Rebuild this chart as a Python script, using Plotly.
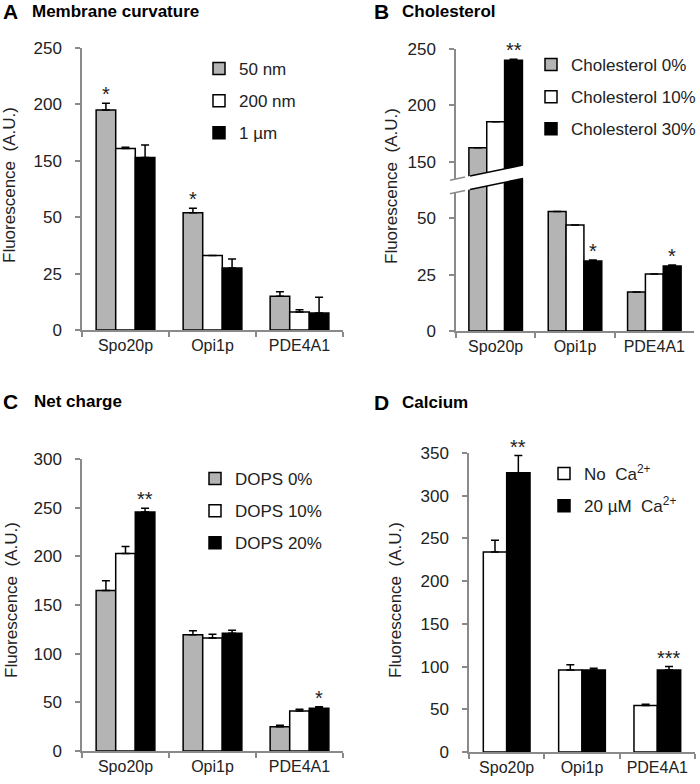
import plotly.graph_objects as go

W, H = 700, 784
FONT = "Liberation Sans, Arial, sans-serif"
GRAY = "#b4b4b4"
AX = "#8a8a8a"
TXT = "#222222"

categories = ["Spo20p", "Opi1p", "PDE4A1"]

# Panel A - membrane curvature
a_names = ["50 nm", "200 nm", "1 µm"]
a_50 = [195, 52, 15]
a_50_err = [6, 2, 2]
a_200 = [161, 33, 8]
a_200_err = [1, 0, 1]
a_1um = [153, 27.5, 7.5]
a_1um_err = [11, 4, 7]

# Panel B - cholesterol
b_names = ["Cholesterol 0%", "Cholesterol 10%", "Cholesterol 30%"]
b_0 = [162.5, 53, 17.3]
b_0_err = [0, 0, 0]
b_10 = [185.5, 47, 25.3]
b_10_err = [0, 0, 0]
b_30 = [240, 31, 28.8]
b_30_err = [0.8, 0.5, 0.5]

# Panel C - net charge
c_names = ["DOPS 0%", "DOPS 10%", "DOPS 20%"]
c_0 = [165, 119.5, 25]
c_0_err = [10, 4, 1.5]
c_10 = [203, 116, 41]
c_10_err = [7, 4, 2]
c_20 = [245.5, 121, 44]
c_20_err = [4, 3, 1.5]

# Panel D - calcium
d_names = ["No\u00a0\u00a0Ca<sup>2+</sup>", "20 µM\u00a0\u00a0Ca<sup>2+</sup>"]
d_no = [234, 96, 54.5]
d_no_err = [14, 6, 1.5]
d_20 = [327, 96, 96]
d_20_err = [20, 2, 4]

# significance stars: (category index, series index, text)
a_stars = [(0, 0, "*"), (1, 0, "*")]
b_stars = [(0, 2, "**"), (1, 2, "*"), (2, 2, "*")]
c_stars = [(0, 2, "**"), (2, 2, "*")]
d_stars = [(0, 1, "**"), (2, 1, "***")]

fills3 = [GRAY, "white", "black"]
fills2 = ["white", "black"]


def pxx(x):
    return x / W


def pyy(y):
    return 1 - y / H


fig = go.Figure()


def add_series(vals, errs, name, fill, width, offset, xa, ya, legend, show=True):
    fig.add_trace(go.Bar(
        x=categories, y=vals, name=name, xaxis=xa, yaxis=ya,
        width=width, offset=offset, legend=legend, showlegend=show,
        legendgroup=legend + name,
        marker=dict(color=fill, line=dict(color="black", width=1.5)),
        error_y=dict(type="data", symmetric=False, array=errs,
                     arrayminus=[0] * len(errs), color="black",
                     thickness=1.5, width=4),
    ))


W3 = 0.225
offs3 = [-1.5 * W3, -0.5 * W3, 0.5 * W3]
W2 = 0.31
offs2 = [-W2, 0]

# Panel A (broken axis: y lower, y2 upper)
a_series = [(a_50, a_50_err), (a_200, a_200_err), (a_1um, a_1um_err)]
for k, (v, e) in enumerate(a_series):
    add_series(v, e, a_names[k], fills3[k], W3, offs3[k], "x", "y", "legend", True)
    add_series(v, e, a_names[k], fills3[k], W3, offs3[k], "x", "y2", "legend", False)

# Panel B (broken axis: y3 lower, y4 upper)
b_series = [(b_0, b_0_err), (b_10, b_10_err), (b_30, b_30_err)]
for k, (v, e) in enumerate(b_series):
    add_series(v, e, b_names[k], fills3[k], W3, offs3[k], "x2", "y3", "legend2", True)
    add_series(v, e, b_names[k], fills3[k], W3, offs3[k], "x2", "y4", "legend2", False)

# Panel C
c_series = [(c_0, c_0_err), (c_10, c_10_err), (c_20, c_20_err)]
for k, (v, e) in enumerate(c_series):
    add_series(v, e, c_names[k], fills3[k], W3, offs3[k], "x3", "y5", "legend3", True)

# Panel D
d_series = [(d_no, d_no_err), (d_20, d_20_err)]
for k, (v, e) in enumerate(d_series):
    add_series(v, e, d_names[k], fills2[k], W2, offs2[k], "x4", "y6", "legend4", True)

annotations = []


def star_annots(stars, series, width, offs, xref, yref_fn):
    for ci, si, txt in stars:
        v, e = series[si]
        top = v[ci] + e[ci]
        annotations.append(dict(
            x=ci + offs[si] + width / 2, y=top, xref=xref, yref=yref_fn(top),
            text=txt, showarrow=False, yanchor="bottom", xanchor="center",
            font=dict(family=FONT, size=20, color=TXT), yshift=-4))


star_annots(a_stars, a_series, W3, offs3, "x", lambda t: "y2" if t > 100 else "y")
star_annots(b_stars, b_series, W3, offs3, "x2", lambda t: "y4" if t > 100 else "y3")
star_annots(c_stars, c_series, W3, offs3, "x3", lambda t: "y5")
star_annots(d_stars, d_series, W2, offs2, "x4", lambda t: "y6")

# panel titles
titles = [("A", "Membrane curvature", 1, 30, 11),
          ("B", "Cholesterol", 372, 400, 11),
          ("C", "Net charge", 1, 32, 401),
          ("D", "Calcium", 372, 400, 402)]
for letter, text, lx, tx, ty in titles:
    annotations.append(dict(x=pxx(lx), y=pyy(ty), xref="paper", yref="paper",
                            text="<b>" + letter + "</b>", showarrow=False,
                            xanchor="left", yanchor="middle",
                            font=dict(family=FONT, size=21, color="black")))
    annotations.append(dict(x=pxx(tx), y=pyy(ty), xref="paper", yref="paper",
                            text="<b>" + text + "</b>", showarrow=False,
                            xanchor="left", yanchor="middle",
                            font=dict(family=FONT, size=17, color="black")))

# y axis titles
for cx, cy in [(10, 185), (391, 186), (11, 600), (395, 600)]:
    annotations.append(dict(x=pxx(cx), y=pyy(cy), xref="paper", yref="paper",
                            text="Fluorescence\u00a0\u00a0(A.U.)", textangle=-90,
                            showarrow=False, xanchor="center", yanchor="middle",
                            font=dict(family=FONT, size=17, color=TXT)))

xcommon = dict(type="category", range=[-0.5, 2.5], showline=True, linecolor=AX,
               linewidth=1.5, ticks="outside", tickson="boundaries", ticklen=5,
               tickcolor=AX, tickwidth=1.5, showgrid=False, zeroline=False,
               tickfont=dict(family=FONT, size=16, color=TXT), fixedrange=True,
               automargin=False)
ycommon = dict(showline=True, linecolor=AX, linewidth=1.5, ticks="outside",
               ticklen=5, tickcolor=AX, tickwidth=1.5, showgrid=False,
               zeroline=False, tickfont=dict(family=FONT, size=17, color=TXT),
               ticklabelstandoff=10, fixedrange=True, automargin=False)

# pixel geometry
A_x = (82, 343)
B_x = (456, 694)
C_x = (82, 343)
D_x = (469, 695)
A_y0, A_br, A_y1 = 330, 189, 48
B_y0, B_br, B_y1 = 331, 179.8, 49


def xd(a):
    return [pxx(a[0]), pxx(a[1])]


fig.update_layout(
    width=W, height=H, margin=dict(l=0, r=0, t=0, b=0, autoexpand=False),
    paper_bgcolor="white", plot_bgcolor="white", barmode="overlay",
    font=dict(family=FONT, color=TXT),
    xaxis=dict(xcommon, domain=xd(A_x), anchor="y"),
    yaxis=dict(ycommon, domain=[pyy(A_y0), pyy(A_br)], range=[0, 62.5],
               tickvals=[0, 25, 50], anchor="x"),
    yaxis2=dict(ycommon, domain=[pyy(A_br), pyy(A_y1)], range=[125, 250],
                tickvals=[150, 200, 250], anchor="x"),
    xaxis2=dict(xcommon, domain=xd(B_x), anchor="y3"),
    yaxis3=dict(ycommon, domain=[pyy(B_y0), pyy(B_br)], range=[0, 67],
                tickvals=[0, 25, 50], anchor="x2"),
    yaxis4=dict(ycommon, domain=[pyy(B_br), pyy(B_y1)], range=[134, 250],
                tickvals=[150, 200, 250], anchor="x2"),
    xaxis3=dict(xcommon, domain=xd(C_x), anchor="y5"),
    yaxis5=dict(ycommon, domain=[pyy(751), pyy(459)], range=[0, 300],
                dtick=50, anchor="x3"),
    xaxis4=dict(xcommon, domain=xd(D_x), anchor="y6"),
    yaxis6=dict(ycommon, domain=[pyy(752), pyy(453)], range=[0, 350],
                dtick=50, anchor="x4"),
    annotations=annotations,
    showlegend=True,
)

leg = dict(bgcolor="rgba(0,0,0,0)", font=dict(family=FONT, size=17, color=TXT),
           xanchor="left", yanchor="top", traceorder="grouped",
           tracegroupgap=7, itemclick=False)
fig.update_layout(
    legend=dict(leg, x=pxx(199), y=pyy(51)),
    legend2=dict(leg, x=pxx(531), y=pyy(47)),
    legend3=dict(leg, x=pxx(195), y=pyy(461)),
    legend4=dict(leg, x=pxx(544), y=pyy(456)),
)

# axis break for panel B: white slanted band plus break marks
def ytop(x):
    return 176 - 0.2075 * (x - 470)


gap = 13.5
xl, xr = 449, 527
band = "M {},{} L {},{} L {},{} L {},{} Z".format(
    pxx(xl), pyy(ytop(xl)), pxx(xr), pyy(ytop(xr)),
    pxx(xr), pyy(ytop(xr) + gap), pxx(xl), pyy(ytop(xl) + gap))
shapes = [dict(type="path", path=band, xref="paper", yref="paper",
               fillcolor="white", line=dict(width=0), layer="above")]
for seg in [(450, 465, AX, 1.5), (470, 523, "black", 1.5)]:
    for dy in (0, gap):
        shapes.append(dict(type="line", xref="paper", yref="paper",
                           x0=pxx(seg[0]), y0=pyy(ytop(seg[0]) + dy),
                           x1=pxx(seg[1]), y1=pyy(ytop(seg[1]) + dy),
                           line=dict(color=seg[2], width=seg[3]), layer="above"))
fig.update_layout(shapes=shapes)

fig.write_html("out.html", config={"displayModeBar": False},
               post_script="document.body.style.margin='0';")
